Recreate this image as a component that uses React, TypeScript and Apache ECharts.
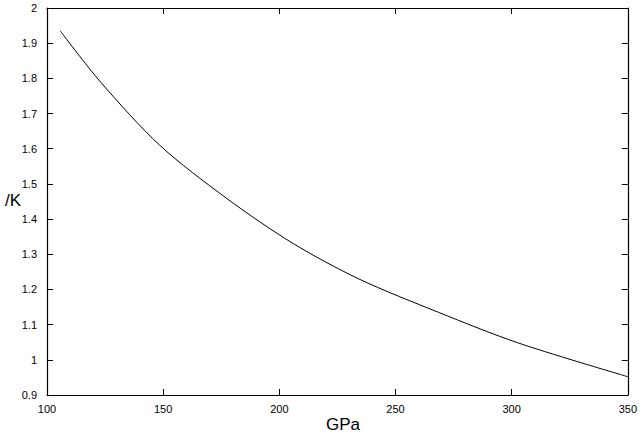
import React, { useEffect, useRef } from "react";
import * as echarts from "echarts";

const pressureGPa = [105.7, 123, 148.5, 177.1, 205.6, 234.2, 268.5, 302.8, 350];
const alphaValues = [1.935, 1.79, 1.61, 1.46, 1.332, 1.23, 1.135, 1.048, 0.952];
const xTicks = { min: 100, max: 350, interval: 50 };
const yTicks = { min: 0.9, max: 2, interval: 0.1 };

export default function App() {
  const ref = useRef<HTMLDivElement>(null);
  useEffect(() => {
    document.body.style.margin = "0";
    const chart = echarts.init(ref.current!, null, { renderer: "svg" });
    const font = "'Liberation Sans', Arial, Helvetica, sans-serif";
    const axisCommon = {
      type: "value" as const,
      axisLine: { show: true, lineStyle: { color: "#000", width: 1.2 } },
      axisTick: { show: true, inside: true, length: 6, lineStyle: { color: "#000", width: 1 } },
      splitLine: { show: false },
    };
    chart.setOption({
      animation: false,
      backgroundColor: "#fff",
      grid: { left: 47, right: 10, top: 8, bottom: 46, containLabel: false },
      xAxis: [
        {
          ...axisCommon,
          position: "bottom",
          min: xTicks.min,
          max: xTicks.max,
          interval: xTicks.interval,
          axisLabel: { color: "#000", fontSize: 11, fontFamily: font, margin: 8 },
        },
        {
          ...axisCommon,
          position: "top",
          min: xTicks.min,
          max: xTicks.max,
          interval: xTicks.interval,
          axisLabel: { show: false },
        },
      ],
      yAxis: [
        {
          ...axisCommon,
          position: "left",
          min: yTicks.min,
          max: yTicks.max,
          interval: yTicks.interval,
          axisLabel: { color: "#000", fontSize: 11, fontFamily: font, margin: 10 },
        },
        {
          ...axisCommon,
          position: "right",
          min: yTicks.min,
          max: yTicks.max,
          interval: yTicks.interval,
          axisLabel: { show: false },
        },
      ],
      graphic: [
        {
          type: "text",
          left: 326,
          top: 416,
          style: { text: "GPa", fontSize: 17, fontFamily: font, fill: "#000" },
        },
        {
          type: "text",
          left: 5,
          top: 192,
          style: { text: "/K", fontSize: 17, fontFamily: font, fill: "#000" },
        },
      ],
      series: [
        {
          type: "line",
          xAxisIndex: 0,
          yAxisIndex: 0,
          data: pressureGPa.map((x, i) => [x, alphaValues[i]]),
          smooth: 0.3,
          showSymbol: false,
          symbol: "none",
          lineStyle: { color: "#000", width: 1 },
        },
      ],
    });
    return () => chart.dispose();
  }, []);
  return <div ref={ref} style={{ position: "absolute", left: 0, top: 0, width: 640, height: 441 }} />;
}
